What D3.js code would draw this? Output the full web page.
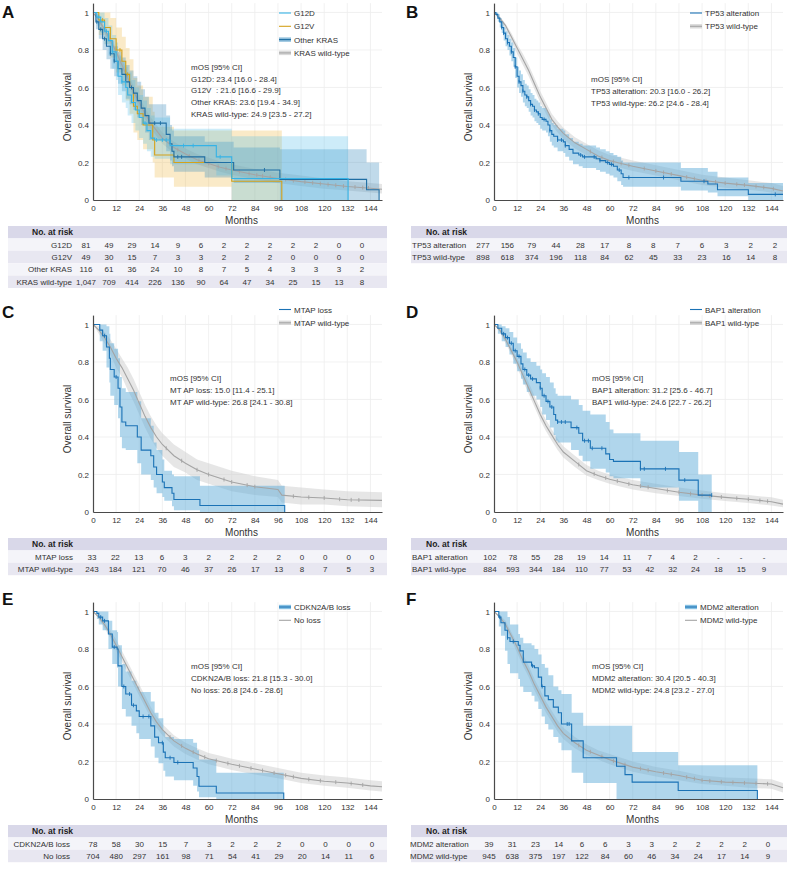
<!DOCTYPE html>
<html>
<head>
<meta charset="utf-8">
<script src="https://cdn.jsdelivr.net/npm/d3@7"></script>
<style>
body { margin: 0; background: #fff; }
svg { display: block; font-family: "Liberation Sans", Arial, sans-serif; }
</style>
</head>
<body>
<svg id="chart" width="787" height="872"></svg>
<script>
// ---- shared axis values ----
const tickMonths = [0, 12, 24, 36, 48, 60, 72, 84, 96, 108, 120, 132, 144];
const yTicks = [0, 0.2, 0.4, 0.6, 0.8, 1];

// ---- curves: [month, survival, ci low, ci high] ----
// A: KRAS
const g12d = [[0,1,1,1],[2,0.975,0.93,1],[4,0.95,0.89,1],[6,0.9,0.83,0.97],[8,0.85,0.77,0.93],[10,0.79,0.7,0.88],[12,0.74,0.64,0.84],[13,0.66,0.56,0.77],[15,0.63,0.52,0.74],[17,0.6,0.49,0.71],[18,0.56,0.45,0.68],[20,0.52,0.41,0.64],[22,0.48,0.37,0.6],[24,0.44,0.33,0.56],[26,0.41,0.3,0.53],[28,0.37,0.26,0.49],[30,0.33,0.23,0.45],[32,0.32,0.22,0.44],[40,0.29,0.19,0.38],[64,0.23,0.13,0.38],[72,0.115,0.0,0.34],[132.4,0,0,0]];
const g12v = [[0,1,1,1],[3,0.96,0.88,1],[6,0.92,0.83,1],[9,0.86,0.76,0.97],[12,0.8,0.68,0.92],[15,0.74,0.61,0.87],[17,0.67,0.53,0.81],[19,0.6,0.46,0.75],[21,0.5,0.36,0.65],[23,0.46,0.32,0.61],[26,0.4,0.27,0.55],[31,0.32,0.2,0.47],[32,0.24,0.12,0.39],[42,0.2,0.07,0.37],[72,0.1,0,0.37],[98,0,0,0]];
const otherKras = [[0,1,1,1],[1.5,0.95,0.91,0.99],[3,0.91,0.86,0.96],[5,0.86,0.8,0.92],[7,0.82,0.75,0.89],[9,0.78,0.7,0.85],[11,0.74,0.66,0.82],[13,0.7,0.62,0.79],[15,0.67,0.58,0.76],[17,0.63,0.54,0.72],[19,0.6,0.51,0.69],[21,0.57,0.48,0.66],[23,0.53,0.44,0.63],[25,0.49,0.4,0.59],[27,0.45,0.36,0.55],[29,0.41,0.32,0.51],[38,0.35,0.26,0.45],[40,0.3,0.21,0.4],[41,0.26,0.18,0.37],[42,0.23,0.15,0.34],[58,0.2,0.12,0.31],[73,0.16,0.09,0.28],[97,0.11,0,0.27],[142,0.055,0,0.2],[148.5,0,0,0]];
const krasWt = [[0,1,1,1],[3,0.96,0.95,0.97],[6,0.91,0.89,0.93],[9,0.85,0.83,0.87],[12,0.79,0.76,0.81],[15,0.72,0.69,0.75],[18,0.65,0.62,0.68],[21,0.58,0.55,0.61],[24,0.52,0.49,0.55],[27,0.46,0.43,0.49],[30,0.41,0.38,0.44],[33,0.37,0.34,0.4],[36,0.33,0.3,0.36],[42,0.28,0.25,0.31],[48,0.245,0.22,0.275],[54,0.215,0.19,0.245],[60,0.195,0.17,0.225],[66,0.175,0.15,0.205],[72,0.16,0.135,0.19],[84,0.135,0.11,0.165],[96,0.115,0.09,0.145],[108,0.098,0.075,0.13],[120,0.085,0.06,0.115],[132,0.072,0.05,0.1],[144,0.063,0.04,0.09],[150,0.057,0.035,0.085]];
// B: TP53
const tp53Alt = [[0,1,1,1],[1,0.99,0.98,1],[2,0.97,0.95,0.99],[3,0.95,0.92,0.97],[4,0.92,0.89,0.95],[5,0.89,0.85,0.92],[6,0.86,0.82,0.9],[7,0.84,0.8,0.88],[8,0.82,0.77,0.86],[9,0.79,0.74,0.84],[10,0.76,0.71,0.81],[11,0.71,0.65,0.76],[12,0.66,0.6,0.71],[13,0.63,0.57,0.69],[14,0.61,0.55,0.67],[15,0.58,0.52,0.64],[16,0.56,0.5,0.62],[17,0.55,0.49,0.61],[18,0.53,0.47,0.59],[19,0.51,0.45,0.57],[20,0.5,0.44,0.56],[21,0.48,0.42,0.54],[22,0.47,0.41,0.53],[23,0.46,0.4,0.52],[24,0.44,0.38,0.5],[25,0.43,0.37,0.49],[27,0.42,0.36,0.48],[28,0.4,0.34,0.46],[29,0.37,0.31,0.43],[30,0.35,0.29,0.41],[31,0.34,0.28,0.4],[33,0.32,0.26,0.38],[36,0.31,0.25,0.37],[37,0.29,0.23,0.35],[39,0.27,0.21,0.33],[41,0.25,0.19,0.31],[44,0.24,0.18,0.3],[46,0.23,0.17,0.29],[53,0.22,0.16,0.28],[55,0.21,0.15,0.27],[58,0.2,0.14,0.26],[60,0.19,0.13,0.25],[62,0.18,0.12,0.24],[64,0.16,0.1,0.23],[66,0.14,0.08,0.21],[67,0.12,0.07,0.2],[97,0.1,0.05,0.17],[111,0.085,0.04,0.15],[116,0.055,0.02,0.12],[132,0.03,0,0.09],[150,0.03,0,0.09]];
const tp53Wt = [[0,1,1,1],[3,0.97,0.96,0.98],[6,0.93,0.91,0.94],[9,0.87,0.85,0.89],[12,0.81,0.78,0.83],[15,0.75,0.72,0.78],[18,0.69,0.66,0.72],[21,0.62,0.59,0.65],[24,0.55,0.52,0.58],[27,0.49,0.46,0.52],[30,0.43,0.4,0.46],[33,0.39,0.36,0.42],[36,0.355,0.325,0.385],[42,0.305,0.275,0.335],[48,0.27,0.24,0.3],[54,0.235,0.21,0.265],[60,0.21,0.185,0.24],[66,0.195,0.17,0.225],[72,0.18,0.155,0.21],[84,0.155,0.13,0.185],[96,0.13,0.105,0.16],[108,0.105,0.08,0.135],[120,0.09,0.065,0.12],[132,0.078,0.055,0.105],[144,0.062,0.04,0.09],[150,0.048,0.028,0.075]];
// C: MTAP
const mtapLoss = [[0,1,1,1],[3.5,0.97,0.91,1],[5,0.94,0.86,1],[7,0.88,0.77,0.99],[8.5,0.82,0.69,0.95],[9,0.76,0.62,0.9],[11,0.72,0.57,0.87],[13,0.66,0.5,0.82],[14,0.56,0.4,0.72],[15,0.48,0.34,0.66],[17,0.46,0.33,0.64],[23,0.4,0.26,0.59],[25,0.33,0.2,0.5],[30,0.3,0.17,0.46],[31.5,0.24,0.13,0.37],[33,0.2,0.1,0.33],[36,0.16,0.08,0.28],[37,0.13,0.06,0.22],[41,0.1,0.03,0.2],[42,0.067,0.01,0.19],[55.5,0.035,0,0.14],[99.5,0,0,0]];
const mtapWt = [[0,1,1,1],[3,0.97,0.95,0.99],[6,0.93,0.9,0.96],[9,0.88,0.84,0.92],[12,0.82,0.77,0.87],[15,0.77,0.72,0.82],[18,0.71,0.65,0.77],[21,0.65,0.59,0.71],[24,0.58,0.52,0.64],[27,0.51,0.45,0.57],[30,0.45,0.39,0.51],[33,0.4,0.34,0.46],[36,0.36,0.3,0.42],[42,0.3,0.24,0.36],[48,0.26,0.21,0.32],[54,0.225,0.17,0.28],[60,0.2,0.15,0.26],[66,0.18,0.13,0.24],[72,0.16,0.11,0.22],[84,0.135,0.09,0.19],[96,0.12,0.08,0.17],[98,0.09,0.05,0.14],[108,0.08,0.04,0.13],[120,0.075,0.04,0.12],[132,0.065,0.03,0.11],[150,0.062,0.025,0.105]];
// D: BAP1
const bap1Alt = [[0,1,1,1],[2,0.98,0.95,1],[4,0.95,0.91,0.99],[6,0.93,0.88,0.98],[8,0.9,0.84,0.96],[10,0.86,0.79,0.93],[12,0.83,0.75,0.9],[14,0.79,0.71,0.87],[15,0.76,0.68,0.85],[17,0.73,0.64,0.82],[19,0.71,0.62,0.8],[22,0.69,0.6,0.78],[24,0.66,0.56,0.76],[25,0.62,0.52,0.74],[27,0.59,0.49,0.72],[29,0.56,0.45,0.69],[31,0.52,0.41,0.66],[32,0.49,0.38,0.63],[33,0.48,0.37,0.62],[40,0.45,0.33,0.6],[44,0.42,0.3,0.57],[46,0.38,0.27,0.54],[50,0.34,0.23,0.52],[58,0.31,0.21,0.48],[60,0.28,0.19,0.44],[62,0.27,0.18,0.42],[76,0.23,0.13,0.38],[96,0.17,0.06,0.32],[106,0.09,0,0.2],[113,0.09,0,0.2]];
const bap1Wt = [[0,1,1,1],[3,0.97,0.96,0.98],[6,0.92,0.9,0.94],[9,0.86,0.84,0.88],[12,0.8,0.77,0.82],[15,0.73,0.7,0.76],[18,0.66,0.63,0.69],[21,0.59,0.56,0.62],[24,0.52,0.49,0.55],[27,0.46,0.43,0.49],[30,0.41,0.38,0.44],[33,0.36,0.33,0.39],[36,0.32,0.29,0.35],[42,0.27,0.24,0.3],[48,0.22,0.195,0.25],[54,0.195,0.17,0.22],[60,0.175,0.15,0.2],[66,0.16,0.135,0.185],[72,0.145,0.12,0.17],[84,0.125,0.1,0.15],[96,0.105,0.085,0.13],[108,0.09,0.07,0.115],[120,0.078,0.058,0.1],[132,0.068,0.048,0.09],[144,0.055,0.035,0.078],[150,0.042,0.025,0.065]];
// E: CDKN2A/B
const cdknLoss = [[0,1,1,1],[2,0.99,0.96,1],[3,0.97,0.93,1],[5,0.95,0.9,1],[8,0.88,0.8,0.95],[10,0.81,0.72,0.9],[12.5,0.8,0.7,0.89],[13,0.71,0.6,0.82],[15,0.6,0.48,0.72],[17,0.56,0.44,0.68],[20,0.5,0.39,0.63],[22.5,0.47,0.35,0.6],[24,0.44,0.32,0.57],[30,0.39,0.28,0.52],[32,0.33,0.22,0.46],[34,0.3,0.19,0.43],[36.5,0.25,0.15,0.36],[37.5,0.22,0.12,0.33],[42,0.195,0.1,0.32],[52,0.165,0.07,0.3],[54,0.12,0.04,0.26],[55,0.068,0.01,0.21],[64,0.032,0,0.14],[99,0,0,0]];
const cdknNoLoss = [[0,1,1,1],[3,0.97,0.96,0.98],[6,0.93,0.91,0.95],[9,0.88,0.86,0.9],[12,0.82,0.79,0.85],[15,0.76,0.73,0.79],[18,0.7,0.67,0.73],[21,0.64,0.61,0.67],[24,0.58,0.55,0.61],[27,0.52,0.49,0.55],[30,0.46,0.43,0.49],[33,0.41,0.38,0.44],[36,0.37,0.34,0.4],[42,0.31,0.28,0.34],[48,0.27,0.24,0.3],[54,0.24,0.21,0.27],[60,0.215,0.185,0.245],[66,0.2,0.17,0.23],[72,0.185,0.155,0.215],[84,0.16,0.13,0.19],[96,0.135,0.11,0.165],[108,0.11,0.085,0.14],[120,0.095,0.07,0.125],[132,0.085,0.06,0.115],[144,0.07,0.045,0.1],[150,0.065,0.04,0.095]];
// F: MDM2
const mdm2Alt = [[0,1,1,1],[2.5,0.97,0.92,1],[3.6,0.94,0.87,1],[5.7,0.9,0.79,1],[7,0.86,0.72,0.97],[8.3,0.84,0.67,0.93],[12.6,0.82,0.64,0.88],[13.5,0.79,0.6,0.86],[15.2,0.73,0.57,0.83],[19.5,0.71,0.55,0.82],[21,0.7,0.52,0.8],[23,0.65,0.48,0.77],[24.7,0.6,0.44,0.72],[26.4,0.55,0.4,0.7],[28.2,0.53,0.37,0.66],[30.8,0.49,0.33,0.6],[33.4,0.46,0.3,0.58],[35,0.4,0.26,0.56],[40.3,0.31,0.14,0.46],[46.3,0.22,0.085,0.39],[63.6,0.175,0,0.39],[68,0.13,0,0.39],[71.7,0.09,0,0.25],[95.6,0.045,0,0.18],[136.7,0,0,0]];
const mdm2Wt = [[0,1,1,1],[3,0.97,0.96,0.98],[6,0.93,0.91,0.95],[9,0.87,0.85,0.89],[12,0.81,0.78,0.83],[15,0.74,0.71,0.77],[18,0.68,0.65,0.71],[21,0.61,0.58,0.64],[24,0.55,0.52,0.58],[27,0.49,0.46,0.52],[30,0.44,0.41,0.47],[33,0.39,0.36,0.42],[36,0.35,0.32,0.38],[42,0.3,0.27,0.33],[48,0.26,0.235,0.29],[54,0.235,0.21,0.26],[60,0.21,0.185,0.24],[66,0.19,0.165,0.22],[72,0.17,0.145,0.2],[84,0.145,0.12,0.17],[96,0.125,0.1,0.15],[108,0.1,0.08,0.125],[120,0.09,0.07,0.115],[132,0.085,0.06,0.11],[144,0.08,0.055,0.105],[150,0.06,0.035,0.085]];

// ---- censoring times (months) ----
const g12dCens = [3, 7, 10, 15, 27, 33, 36, 38, 47, 52, 66];
const g12vCens = [5, 14, 18];
const otherKrasCens = [2, 4, 6, 9, 11, 20, 32, 35, 44, 46, 89];
const krasWtCens = [44, 50, 55, 60, 65, 69, 76, 81, 85, 88, 92, 100, 104, 110, 114, 118, 122, 126, 130, 136, 140, 143];
const tp53AltCens = [4, 5, 7, 9, 11, 13, 15, 17, 19, 21, 23, 26, 29, 33, 35, 37, 45, 47, 52, 55, 59, 61, 65, 70, 88, 109, 146];
const tp53WtCens = [50, 56, 62, 66, 70, 78, 84, 88, 92, 100, 104, 110, 115, 120, 126, 130, 136, 140, 145];
const mtapLossCens = [6, 12];
const mtapWtCens = [38, 46, 54, 60, 68, 72, 80, 84, 104, 112, 120, 128, 134, 138];
const bap1AltCens = [5, 7, 9, 11, 13, 16, 18, 20, 24, 26, 28, 30, 33, 35, 37, 43, 47, 49, 51, 56, 76, 78, 89, 99, 113];
const bap1WtCens = [44, 52, 58, 64, 70, 76, 80, 90, 96, 102, 108, 112, 118, 126, 132, 138, 142];
const cdknLossCens = [4, 6, 11, 16, 19, 21, 26, 29, 36, 40, 44];
const cdknNoLossCens = [40, 46, 52, 58, 64, 70, 76, 82, 88, 94, 100, 104, 112, 118, 126, 134, 140];
const mdm2AltCens = [3, 7, 10, 20, 25, 38, 39];
const mdm2WtCens = [44, 50, 56, 62, 68, 76, 80, 88, 92, 100, 104, 108, 112, 118, 124, 130, 136, 142];

// ---- legends / median OS text ----
const legendA = ["G12D", "G12V", "Other KRAS", "KRAS wild-type"];
const legendB = ["TP53 alteration", "TP53 wild-type"];
const legendC = ["MTAP loss", "MTAP wild-type"];
const legendD = ["BAP1 alteration", "BAP1 wild-type"];
const legendE = ["CDKN2A/B loss", "No loss"];
const legendF = ["MDM2 alteration", "MDM2 wild-type"];
const mosA = ["mOS [95% CI]", "G12D: 23.4 [16.0 - 28.4]", "G12V  : 21.6 [16.6 - 29.9]", "Other KRAS: 23.6 [19.4 - 34.9]", "KRAS wild-type: 24.9 [23.5 - 27.2]"];
const mosB = ["mOS [95% CI]", "TP53 alteration: 20.3 [16.0 - 26.2]", "TP53 wild-type: 26.2 [24.6 - 28.4]"];
const mosC = ["mOS [95% CI]", "MT AP loss: 15.0 [11.4 - 25.1]", "MT AP wild-type: 26.8 [24.1 - 30.8]"];
const mosD = ["mOS [95% CI]", "BAP1 alteration: 31.2 [25.6 - 46.7]", "BAP1 wild-type: 24.6 [22.7 - 26.2]"];
const mosE = ["mOS [95% CI]", "CDKN2A/B loss: 21.8 [15.3 - 30.0]", "No loss: 26.8 [24.6 - 28.6]"];
const mosF = ["mOS [95% CI]", "MDM2 alteration: 30.4 [20.5 - 40.3]", "MDM2 wild-type: 24.8 [23.2 - 27.0]"];

// ---- numbers at risk ----
const riskA = [[81,49,29,14,9,6,2,2,2,2,2,0,0],[49,30,15,7,3,3,2,2,2,0,0,0,0],[116,61,36,24,10,8,7,5,4,3,3,3,2],["1,047",709,414,226,136,90,64,47,34,25,15,13,8]];
const riskB = [[277,156,79,44,28,17,8,8,7,6,3,2,2],[898,618,374,196,118,84,62,45,33,23,16,14,8]];
const riskC = [[33,22,13,6,3,2,2,2,2,0,0,0,0],[243,184,121,70,46,37,26,17,13,8,7,5,3]];
const riskD = [[102,78,55,28,19,14,11,7,4,2,"-","-","-"],[884,593,344,184,110,77,53,42,32,24,18,15,9]];
const riskE = [[78,58,30,15,7,3,2,2,2,0,0,0,0],[704,480,297,161,98,71,54,41,29,20,14,11,6]];
const riskF = [[39,31,23,14,6,6,3,3,2,2,2,2,0],[945,638,375,197,122,84,60,46,34,24,17,14,9]];

// ---- styles ----
const BLUE = { line: "#1a72b5", band: "#5aaad8", op: 0.48 };
const GREY = { line: "#a4a4a4", band: "#cdcdcd", op: 0.5 };

const svg = d3.select("#chart");
const FONT = "#333";

function survAt(data, t, step) {
    let i = 0;
    while (i < data.length - 1 && data[i + 1][0] <= t) i++;
    if (step || i === data.length - 1) return data[i][1];
    const a = data[i], b = data[i + 1];
    return a[1] + (b[1] - a[1]) * (t - a[0]) / (b[0] - a[0]);
}

function drawPanel(p) {
    const x = d3.scaleLinear().domain([0, 150]).range([p.x0, p.x0 + 289]);
    const y = d3.scaleLinear().domain([0, 1.05]).range([p.base, p.base - 196.9]);
    const g = svg.append("g");

    // grid
    g.selectAll(null).data(tickMonths.slice(1)).join("line")
        .attr("x1", d => x(d)).attr("x2", d => x(d))
        .attr("y1", y(0)).attr("y2", y(1.05))
        .attr("stroke", "#ededed").attr("stroke-width", 0.8);
    g.selectAll(null).data(yTicks.slice(1)).join("line")
        .attr("x1", x(0)).attr("x2", x(150))
        .attr("y1", d => y(d)).attr("y2", d => y(d))
        .attr("stroke", "#ededed").attr("stroke-width", 0.8);

    // confidence bands
    p.curves.forEach(c => {
        const area = d3.area()
            .x(d => x(d[0])).y0(d => y(d[2])).y1(d => y(d[3]))
            .curve(c.step ? d3.curveStepAfter : d3.curveLinear);
        g.append("path").datum(c.data)
            .attr("d", area)
            .attr("fill", c.band).attr("fill-opacity", c.op);
    });

    // survival lines + censor marks
    p.curves.forEach(c => {
        const line = d3.line()
            .x(d => x(d[0])).y(d => y(d[1]))
            .curve(c.step ? d3.curveStepAfter : d3.curveLinear);
        g.append("path").datum(c.data)
            .attr("d", line)
            .attr("fill", "none").attr("stroke", c.line).attr("stroke-width", 1.1);
        g.selectAll(null).data(c.cens).join("line")
            .attr("x1", d => x(d)).attr("x2", d => x(d))
            .attr("y1", d => y(survAt(c.data, d, c.step)) - 2)
            .attr("y2", d => y(survAt(c.data, d, c.step)) + 2)
            .attr("stroke", c.line).attr("stroke-width", 0.9);
    });

    // axes
    const xAxis = g.append("g")
        .attr("transform", "translate(0," + p.base + ")")
        .call(d3.axisBottom(x).tickValues(tickMonths).tickSize(0).tickPadding(5));
    const yAxis = g.append("g")
        .attr("transform", "translate(" + p.x0 + ",0)")
        .call(d3.axisLeft(y).tickValues(yTicks).tickSize(0).tickPadding(4)
            .tickFormat(d => (d === 0 || d === 1) ? String(d) : d3.format(".1f")(d)));
    [xAxis, yAxis].forEach(a => {
        a.select(".domain").attr("stroke", "#4a4a4a").attr("stroke-width", 1.2);
        a.selectAll("text").attr("fill", FONT).attr("font-size", 8)
            .attr("font-family", "Liberation Sans, Arial, sans-serif");
    });

    g.append("text")
        .attr("x", x(75) + 4).attr("y", p.base + 24)
        .attr("text-anchor", "middle").attr("font-size", 10).attr("fill", FONT)
        .text("Months");
    g.append("text")
        .attr("transform", "translate(" + (p.x0 - 22) + "," + (p.base - 93) + ") rotate(-90)")
        .attr("text-anchor", "middle").attr("font-size", 10).attr("fill", FONT)
        .text("Overall survival");

    // panel letter
    g.append("text")
        .attr("x", p.letterX).attr("y", p.letterY)
        .attr("font-size", 17).attr("font-weight", "bold").attr("fill", "#111")
        .text(p.letter);

    // legend
    p.legend.forEach((name, i) => {
        const c = p.curves[p.legendOrder[i]];
        const ly = p.legendY + i * 13.3;
        if (p.legendThick[i]) {
            g.append("rect").attr("x", p.legendX).attr("y", ly - 2.2)
                .attr("width", 12).attr("height", 4.4)
                .attr("fill", c.band).attr("fill-opacity", Math.min(1, c.op + 0.25));
        }
        g.append("line").attr("x1", p.legendX).attr("x2", p.legendX + 12)
            .attr("y1", ly).attr("y2", ly)
            .attr("stroke", c.line).attr("stroke-width", 1.1);
        g.append("text").attr("x", p.legendX + 15).attr("y", ly + 3)
            .attr("font-size", 8).attr("fill", FONT).text(name);
    });

    // median OS block
    g.selectAll(null).data(p.mos).join("text")
        .attr("x", p.mosX).attr("y", (d, i) => p.mosY + i * 11.8 + 3)
        .attr("font-size", 8).attr("fill", FONT)
        .attr("xml:space", "preserve").style("white-space", "pre")
        .text(d => d);

    // number at risk table
    const top = p.base + 26, rh = 12.4;
    g.append("rect").attr("x", p.tblX0).attr("y", top)
        .attr("width", p.tblX1 - p.tblX0).attr("height", rh).attr("fill", "#d9d8e9");
    g.append("text").attr("x", p.headX).attr("y", top + rh / 2 + 3)
        .attr("font-size", 8.5).attr("font-weight", "bold").attr("fill", "#222")
        .text("No. at risk");
    const colX = d3.scaleLinear().domain([0, 12]).range([p.colStart, p.colEnd]);
    p.risk.forEach((row, r) => {
        const ry = top + rh * (r + 1);
        g.append("rect").attr("x", p.tblX0).attr("y", ry)
            .attr("width", p.tblX1 - p.tblX0).attr("height", rh)
            .attr("fill", r % 2 === 0 ? "#f4f4f9" : "#e8e7f1");
        g.append("text")
            .attr("x", p.labelX)
            .attr("y", ry + rh / 2 + 3)
            .attr("text-anchor", p.labelAnchor)
            .attr("font-size", 8).attr("fill", FONT)
            .text(p.legend[r]);
        g.selectAll(null).data(row).join("text")
            .attr("x", (d, i) => colX(i)).attr("y", ry + rh / 2 + 3)
            .attr("text-anchor", "middle").attr("font-size", 8).attr("fill", FONT)
            .text(d => d);
    });
}

const left = { x0: 93, letterX: 2, tblX0: 8, tblX1: 387, headX: 32, labelAnchor: "end" };
const right = { x0: 494, letterX: 406, tblX0: 411, tblX1: 787, headX: 426, labelAnchor: "start", labelX: 412 };

const panels = [
    Object.assign({}, left, {
        letter: "A", base: 200, letterY: 18,
        curves: [
            Object.assign({ data: krasWt, cens: krasWtCens, step: false }, GREY),
            { data: g12v, cens: g12vCens, step: true, line: "#d4a11a", band: "#f0b84a", op: 0.3 },
            { data: otherKras, cens: otherKrasCens, step: true, line: "#1f6ea3", band: "#3a8dbf", op: 0.32 },
            { data: g12d, cens: g12dCens, step: true, line: "#35b3e6", band: "#4bbbea", op: 0.28 }
        ],
        legend: legendA, legendOrder: [3, 1, 2, 0], legendThick: [false, false, true, true],
        legendX: 279, legendY: 13, mos: mosA, mosX: 191, mosY: 66.7,
        risk: riskA, labelX: 72, colStart: 86, colEnd: 362
    }),
    Object.assign({}, right, {
        letter: "B", base: 200, letterY: 18,
        curves: [
            Object.assign({ data: tp53Wt, cens: tp53WtCens, step: false }, GREY),
            Object.assign({ data: tp53Alt, cens: tp53AltCens, step: true }, BLUE)
        ],
        legend: legendB, legendOrder: [1, 0], legendThick: [false, true],
        legendX: 690, legendY: 13, mos: mosB, mosX: 591, mosY: 79.3,
        risk: riskB, colStart: 483, colEnd: 775
    }),
    Object.assign({}, left, {
        letter: "C", base: 512, letterY: 318,
        curves: [
            Object.assign({ data: mtapWt, cens: mtapWtCens, step: false }, GREY),
            Object.assign({ data: mtapLoss, cens: mtapLossCens, step: true }, BLUE)
        ],
        legend: legendC, legendOrder: [1, 0], legendThick: [false, true],
        legendX: 279, legendY: 309.5, mos: mosC, mosX: 170, mosY: 378.3,
        risk: riskC, labelX: 73, colStart: 92, colEnd: 372
    }),
    Object.assign({}, right, {
        letter: "D", base: 512, letterY: 318,
        curves: [
            Object.assign({ data: bap1Wt, cens: bap1WtCens, step: false }, GREY),
            Object.assign({ data: bap1Alt, cens: bap1AltCens, step: true }, BLUE)
        ],
        legend: legendD, legendOrder: [1, 0], legendThick: [false, true],
        legendX: 690, legendY: 309.5, mos: mosD, mosX: 592, mosY: 378.3,
        risk: riskD, colStart: 490, colEnd: 764
    }),
    Object.assign({}, left, {
        letter: "E", base: 799, letterY: 605,
        curves: [
            Object.assign({ data: cdknNoLoss, cens: cdknNoLossCens, step: false }, GREY),
            Object.assign({ data: cdknLoss, cens: cdknLossCens, step: true }, BLUE)
        ],
        legend: legendE, legendOrder: [1, 0], legendThick: [true, false],
        legendX: 279, legendY: 607, mos: mosE, mosX: 191, mosY: 666,
        risk: riskE, labelX: 70, colStart: 93, colEnd: 372
    }),
    Object.assign({}, right, {
        letter: "F", base: 799, letterY: 605,
        curves: [
            Object.assign({ data: mdm2Wt, cens: mdm2WtCens, step: false }, GREY),
            Object.assign({ data: mdm2Alt, cens: mdm2AltCens, step: true }, BLUE)
        ],
        legend: legendF, legendOrder: [1, 0], legendThick: [true, false],
        legendX: 685, legendY: 607, mos: mosF, mosX: 592, mosY: 666,
        risk: riskF, labelX: 410, colStart: 489, colEnd: 768
    })
];

panels.forEach(drawPanel);
</script>
</body>
</html>
